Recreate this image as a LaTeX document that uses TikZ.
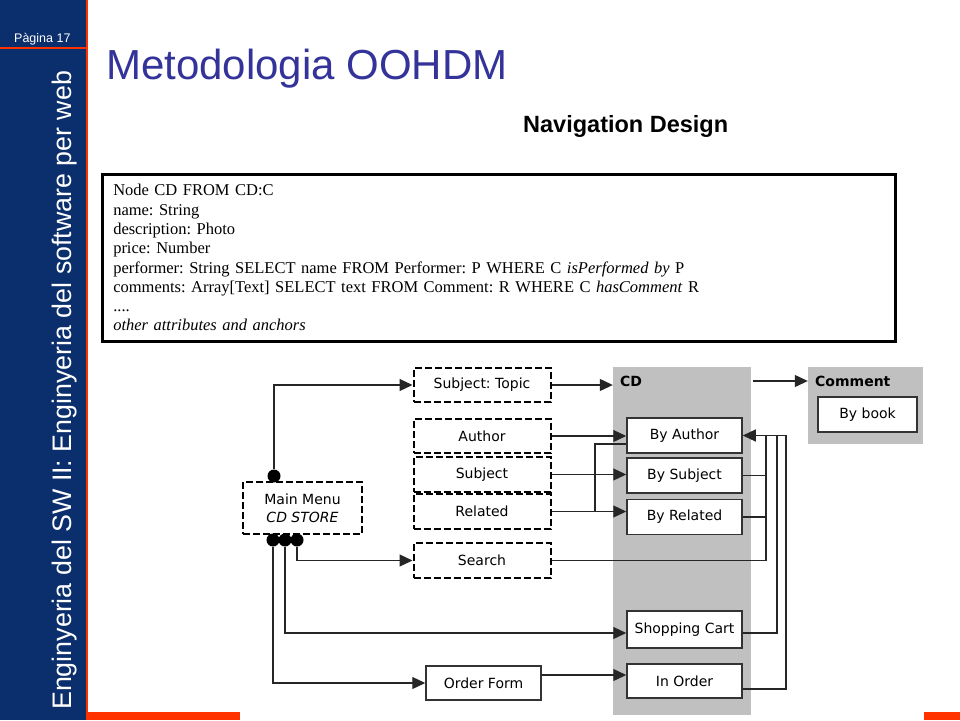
\documentclass[tikz,border=0pt]{standalone}
\usepackage{fontspec}
\setmainfont{Liberation Sans}
\newfontfamily\codefont{Liberation Serif}
\newfontfamily\diagfont{DejaVu Sans}
\usetikzlibrary{arrows.meta}
\definecolor{sidebarblue}{RGB}{11,46,108}
\definecolor{titleblue}{RGB}{51,51,153}
\definecolor{barorange}{RGB}{255,51,0}
\definecolor{panelgray}{RGB}{192,192,192}
\frenchspacing
\begin{document}
\begin{tikzpicture}[x=1pt,y=-1pt,
  thin line/.style={line width=1.2pt,draw=black!85},
  nav arrow/.style={thin line,-{Triangle[length=13pt,width=12pt]}},
  menu box/.style={draw,line width=2pt,dash pattern=on 7pt off 3pt,fill=white,
    font=\diagfont\fontsize{14}{18}\selectfont,minimum width=137pt,minimum height=34pt,inner sep=0pt},
  index box/.style={draw=black!80,line width=1.5pt,fill=white,
    font=\diagfont\fontsize{14}{18}\selectfont,minimum width=115pt,minimum height=35pt,inner sep=0pt},
  panel/.style={fill=panelgray,inner sep=0pt},
  panel title/.style={font=\diagfont\bfseries\fontsize{14}{17}\selectfont,anchor=west,inner sep=0pt},
  link dot/.style={circle,fill=black,inner sep=0pt,minimum size=13pt}]

  \useasboundingbox (0,0) rectangle (960,720);
  \fill[white] (0,0) rectangle (960,720);

  % sidebar and page decoration
  \fill[sidebarblue] (0,0) rectangle (86,720);
  \fill[barorange] (86,0) rectangle (88,720);
  \draw[barorange,line width=1.5pt] (0,48) -- (86,48);
  \fill[barorange] (88,712) rectangle (240,720);
  \fill[barorange] (924,712) rectangle (960,720);
  \node[anchor=base west,text=white,inner sep=0pt,font=\fontsize{12.5}{15}\selectfont] (page) at (14,42) {Pàgina 17};
  \node[rotate=90,anchor=base west,text=white,inner sep=0pt,font=\fontsize{26.8}{30}\selectfont] (course) at (71,710)
    {Enginyeria del SW II: Enginyeria del software per web};

  \node[anchor=base west,text=titleblue,inner sep=0pt,font=\fontsize{42}{50}\selectfont] (title) at (106,79) {Metodologia OOHDM};
  \node[anchor=base west,inner sep=0pt,font=\bfseries\fontsize{23.5}{28}\selectfont] (subtitle) at (523,132) {Navigation Design};

  % node class definition
  \node[draw,line width=2.5pt,anchor=north west,text width=771pt,align=left,inner xsep=11pt,
    minimum height=167pt,font=\codefont\fontsize{16.5}{19.3}\selectfont] (attrs) at (101,173)
    {Node CD FROM CD:C\\
     name: String\\
     description: Photo\\
     price: Number\\
     performer: String SELECT name FROM Performer: P WHERE C \textit{isPerformed by} P\\
     comments: Array[Text] SELECT text FROM Comment: R WHERE C \textit{hasComment} R\\
     ....\\
     \textit{other attributes and anchors}};

  % contexts
  \node[panel,minimum width=138pt,minimum height=348pt] (cd) at (682,541) {};
  \node[panel title] (cdtitle) at (620,381) {CD};
  \node[panel,minimum width=115pt,minimum height=77pt] (comment) at (865.5,405.5) {};
  \node[panel title] (commenttitle) at (815,381) {Comment};
  \node[index box,minimum width=99pt] (bybook) at (867.5,414.5) {By book};

  \node[index box] (byauthor) at (684.5,435.5) {By Author};
  \node[index box] (bysubject) at (684.5,475.5) {By Subject};
  \node[index box] (byrelated) at (684.5,517) {By Related};
  \node[index box,minimum height=37pt] (shopcart) at (684.5,629.5) {Shopping Cart};
  \node[index box,minimum height=34pt] (inorder) at (684.5,681) {In Order};
  \node[index box,minimum height=34pt] (orderform) at (483.5,683) {Order Form};

  % menus
  \node[menu box] (subtopic) at (482,385) {Subject: Topic};
  \node[menu box] (author) at (482,436) {Author};
  \node[menu box,minimum height=35pt] (subject) at (482,474.5) {Subject};
  \node[menu box,minimum height=35pt] (related) at (482,511.5) {Related};
  \node[menu box,minimum height=35pt] (search) at (482,560.5) {Search};
  \node[menu box,minimum width=119pt,minimum height=52pt,align=center] (mainmenu) at (302.5,508)
    {Main Menu\\\textit{CD STORE}};

  \node[link dot] (dottop) at (274,476) {};
  \node[link dot] (dotorder) at (273,540) {};
  \node[link dot] (dotcart) at (285,540) {};
  \node[link dot] (dotsearch) at (297,540) {};

  \coordinate (jn) at (595,0);
  \coordinate (busa) at (766,0);
  \coordinate (busb) at (777,0);
  \coordinate (busc) at (786,0);

  % links
  \draw[nav arrow] (dottop) |- (subtopic);
  \draw[nav arrow] (subtopic) -- (subtopic -| cd.west);
  \draw[nav arrow] ([xshift=2pt]cdtitle -| cd.east) -- (cdtitle -| comment.west);
  \draw[nav arrow] (author) -- (author -| byauthor.west);
  \draw[nav arrow] (subject) -- (subject -| bysubject.west);
  \draw[nav arrow] (related) -- (related -| byrelated.west);
  \draw[thin line] ([yshift=-8.5pt]byauthor.west) -| (related -| jn);

  \draw[nav arrow] (search) -| (busa |- byauthor) -- (byauthor);
  \draw[thin line] (bysubject) -- (bysubject -| busa);
  \draw[thin line] (byrelated) -- (byrelated -| busa);
  \draw[thin line] ([yshift=-3.5pt]shopcart.east) -| (busb |- byauthor) -- (busa |- byauthor);
  \draw[thin line] ([yshift=-8pt]inorder.east) -| (busc |- byauthor) -- (busb |- byauthor);

  \draw[nav arrow] (dotsearch) |- (search);
  \draw[nav arrow] (dotcart) |- ([yshift=-3.5pt]shopcart.west);
  \draw[nav arrow] (dotorder) |- (orderform);
  \draw[nav arrow] ([yshift=8pt]orderform.east) -- ([yshift=8pt]orderform.east -| inorder.west);
\end{tikzpicture}
\end{document}
